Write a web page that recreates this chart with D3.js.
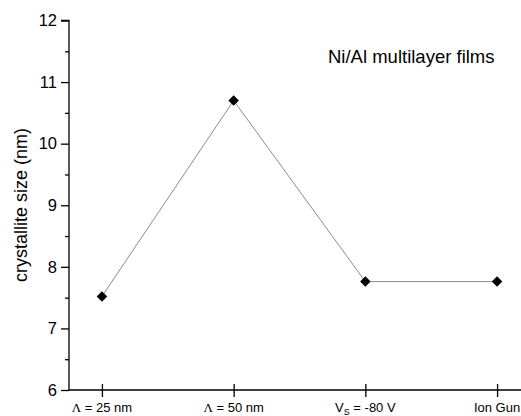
<!DOCTYPE html>
<html>
<head>
<meta charset="utf-8">
<script src="https://cdn.jsdelivr.net/npm/d3@7"></script>
<style>
body { margin: 0; background: #fff; }
svg { font-family: "Liberation Sans", Arial, sans-serif; }
</style>
</head>
<body>
<svg id="svg1" width="521" height="416"></svg>
<script>
var width = 521;
var height = 416;

// data
var categories = ['\u039B = 25 nm', '\u039B = 50 nm', 'Vs = -80 V', 'Ion Gun'];
var sizes = [7.52, 10.7, 7.76, 7.76];
var yTicks = [6, 7, 8, 9, 10, 11, 12];

var svg = d3.select('svg');

var x = d3.scaleLinear().domain([0.75, 4.25]).range([69, 530]);
var y = d3.scaleLinear().domain([6, 12]).range([390, 20.5]);

// y axis with minor ticks
var yAxis = svg.append('g')
    .attr('transform', 'translate(69,0)')
    .call(d3.axisLeft(y).tickValues(d3.range(6, 12.01, 0.5)).tickSize(8).tickFormat(function (d) {
        return d % 1 === 0 ? d : '';
    }));
yAxis.selectAll('.tick line')
    .attr('x2', function (d) { return d % 1 === 0 ? -8 : -4; });
yAxis.select('.domain').attr('d', 'M-8,' + y(12) + 'H0V' + y(6));
yAxis.selectAll('text').attr('font-size', 16.5).attr('fill', '#000').attr('x', -12).attr('font-family', 'Liberation Sans, Arial, sans-serif');
yAxis.selectAll('line, path').attr('stroke', '#000').attr('stroke-width', 1.3);

// x axis
var xAxis = svg.append('g')
    .attr('transform', 'translate(0,390)')
    .call(d3.axisBottom(x).tickValues([1, 2, 3, 4]).tickSize(6).tickFormat(''));
xAxis.selectAll('.tick line').attr('y1', -6).attr('y2', 7);
xAxis.select('.domain').attr('d', 'M69,0H530');
xAxis.selectAll('line, path').attr('stroke', '#000').attr('stroke-width', 1.3);

// x tick labels (serif lambda, subscript for Vs)
categories.forEach(function (c, i) {
    var t = svg.append('text')
        .attr('x', x(i + 1))
        .attr('y', 412)
        .attr('text-anchor', 'middle')
        .attr('font-size', 13)
        .attr('fill', '#000');
    if (c.indexOf('Vs') === 0) {
        t.append('tspan').text('V');
        t.append('tspan').attr('font-size', 9).attr('dy', 3).text('S');
        t.append('tspan').attr('dy', -3).text(' = -80 V');
    } else if (c.charAt(0) === '\u039B') {
        t.append('tspan').attr('font-family', 'Liberation Serif, serif').text('\u039B');
        t.append('tspan').text(c.slice(1));
    } else {
        t.text(c);
    }
});

// line
var line = d3.line()
    .x(function (d, i) { return x(i + 1); })
    .y(function (d) { return y(d); });

svg.append('path')
    .datum(sizes)
    .attr('d', line)
    .attr('fill', 'none')
    .attr('stroke', '#8c8c8c')
    .attr('stroke-width', 1);

svg.selectAll('.pt')
    .data(sizes)
    .enter()
    .append('path')
    .attr('class', 'pt')
    .attr('d', d3.symbol().type(d3.symbolSquare).size(55))
    .attr('transform', function (d, i) {
        return 'translate(' + x(i + 1) + ',' + y(d) + ') rotate(45)';
    })
    .attr('fill', '#000');

// labels
svg.append('text')
    .attr('transform', 'translate(27,205) rotate(-90)')
    .attr('text-anchor', 'middle')
    .attr('font-size', 18)
    .attr('fill', '#000')
    .text('crystallite size (nm)');

svg.append('text')
    .attr('x', 328)
    .attr('y', 63)
    .attr('font-size', 18.5)
    .attr('fill', '#000')
    .text('Ni/Al multilayer films');
</script>
</body>
</html>
